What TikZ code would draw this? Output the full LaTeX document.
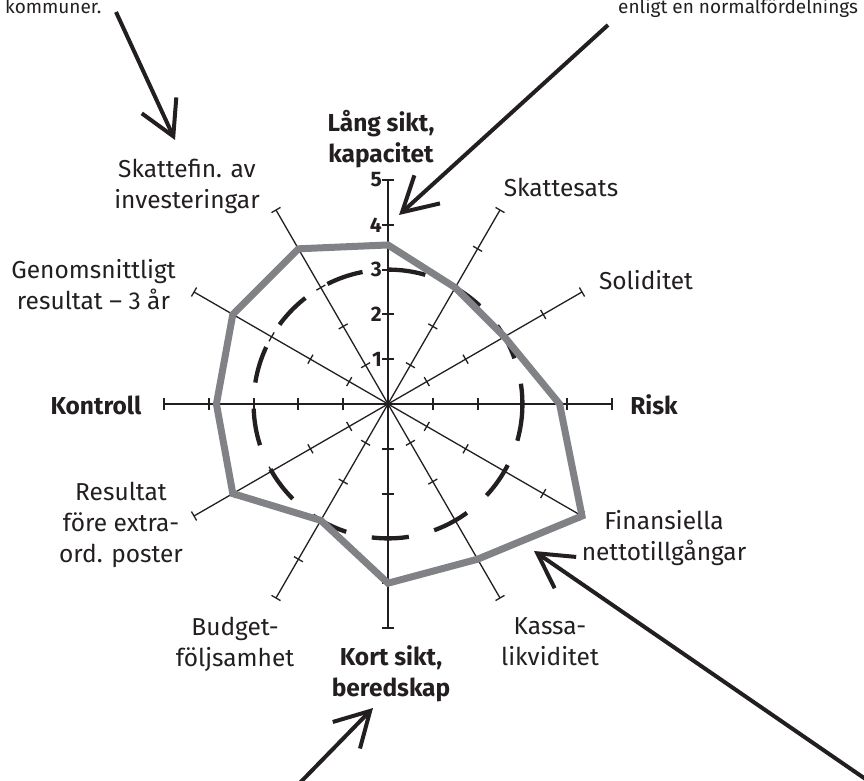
\documentclass[tikz,border=0pt]{standalone}
\usepackage{fontspec}
\setmainfont{Fira Sans}
\usetikzlibrary{arrows.meta}
\definecolor{ink}{RGB}{35,31,32}
\definecolor{polygray}{RGB}{128,130,133}
\begin{document}
\begin{tikzpicture}[x=1pt,y=1pt,
  lbl/.style={font=\fontsize{24.5}{31}\selectfont, text=ink, align=center, inner sep=0pt},
  blbl/.style={font=\fontsize{24.5}{31}\selectfont\bfseries, text=ink, align=center, inner sep=0pt},
  num/.style={font=\fontsize{21}{21}\selectfont\bfseries, text=ink, inner sep=0pt, anchor=east},
  note/.style={font=\fontsize{19}{24}\selectfont, text=ink, inner sep=0pt, anchor=base west},
  mainaxis/.style={draw=ink, line width=2.6pt},
  maintick/.style={draw=ink, line width=2pt},
  subaxis/.style={draw=ink, line width=1.3pt},
  dashcirc/.style={draw=ink, line width=4.3pt, dash pattern=on 37.2pt off 26.2pt},
  polyline/.style={draw=polygray, line width=7pt, line join=miter},
  callout/.style={draw=ink, line width=4pt, -{Straight Barb[length=34pt,width=38pt]}}
]
\useasboundingbox (0,0) rectangle (864,780);
\clip (0,0) rectangle (864,780);

\begin{scope}[shift={(388pt,376pt)}, x=44.8pt, y=44.8pt]
  % thin diagonal axes
  \foreach \a in {30,60,120,150,210,240,300,330} {
    \begin{scope}[rotate=\a]
      \draw[subaxis] (0,0) -- (5,0);
      \foreach \k in {1,...,5} \draw[subaxis] (\k,-0.115) -- (\k,0.115);
    \end{scope}
  }
  % main axes
  \draw[mainaxis] (-5,0) -- (5,0);
  \draw[mainaxis] (0,-5) -- (0,5);
  \foreach \a in {0,90,180,270} {
    \begin{scope}[rotate=\a]
      \foreach \k in {1,...,5} \draw[maintick] (\k,-0.135) -- (\k,0.135);
    \end{scope}
  }
  % dashed reference circle (value 3)
  \draw[dashcirc] (3,0) arc[start angle=0, end angle=-360, radius=3];
  % value polygon
  \draw[polyline] (0:3.83) -- (30:3) -- (60:3) -- (90:3.55) -- (120:4) -- (150:4)
    -- (180:3.83) -- (210:4) -- (240:3) -- (270:4) -- (300:4) -- (330:5) -- cycle;
  % scale numbers
  \foreach \k in {1,...,5} \node[num] (num\k) at (-0.134,\k) {\k};
\end{scope}

% axis labels
\node[blbl] (lang) at (381,641) {Lång sikt,\\kapacitet};
\node[lbl] (skattesats) at (561,593) {Skattesats};
\node[lbl] (soliditet) at (646,500) {Soliditet};
\node[blbl] (risk) at (654,375) {Risk};
\node[lbl] (finans) at (664,242) {Finansiella\\nettotillgångar};
\node[lbl] (kassa) at (550,138) {Kassa-\\likviditet};
\node[blbl] (kort) at (391,106) {Kort sikt,\\beredskap};
\node[lbl] (budget) at (235,136) {Budget-\\följsamhet};
\node[lbl] (resultat) at (121,255) {Resultat\\före extra-\\ord. poster};
\node[blbl] (kontroll) at (96,375) {Kontroll};
\node[lbl] (genom) at (93.5,495.5) {Genomsnittligt\\resultat – 3 år};
\node[lbl] (skattefin) at (187,593.5) {Skattefin. av\\investeringar};

% annotation text fragments at the top edge
\node[note] (noteL) at (5,766) {kommuner.};
\node[note] (noteR) at (618,766) {enligt en normalfördelnings};

% callout arrows
\coordinate (a1s) at (116,768); \coordinate (a1t) at (175,640);
\coordinate (a2s) at (608,755); \coordinate (a2t) at (399,565);
\coordinate (a3s) at (896,-20); \coordinate (a3t) at (534,229);
\coordinate (a4s) at (289,-14); \coordinate (a4t) at (373,72);
\draw[callout] (a1s) -- (a1t);
\draw[callout] (a2s) -- (a2t);
\draw[callout] (a3s) -- (a3t);
\draw[callout] (a4s) -- (a4t);
\end{tikzpicture}
\end{document}
